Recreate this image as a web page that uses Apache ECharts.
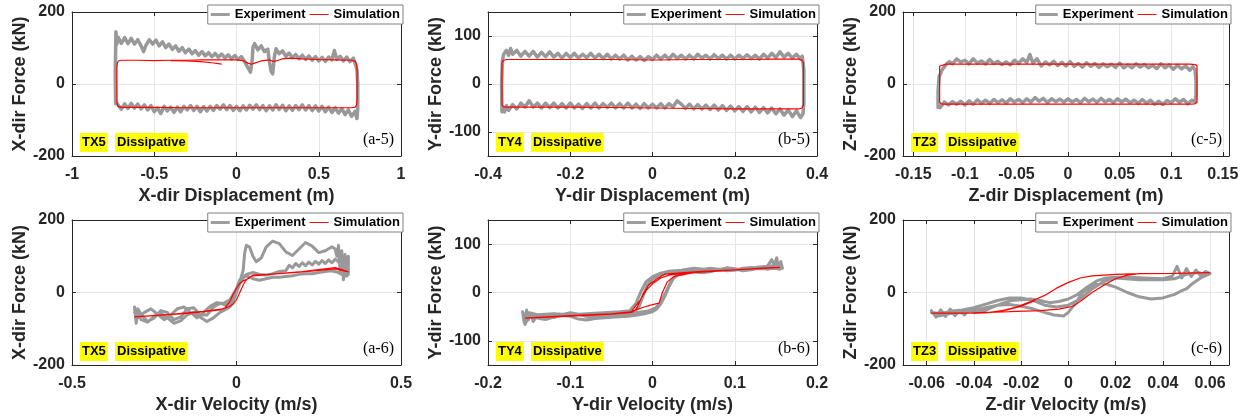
<!DOCTYPE html>
<html><head><meta charset="utf-8">
<script src="https://cdn.jsdelivr.net/npm/echarts@6/dist/echarts.min.js"></script>
<style>html,body{margin:0;padding:0;background:#fff}#c{width:1248px;height:418px}</style>
</head><body><div id="c"></div>
<script>
// ---------- tick values ----------
const xTicksA5 = [-1, -0.5, 0, 0.5, 1];
const xTicksB5 = [-0.4, -0.2, 0, 0.2, 0.4];
const xTicksC5 = [-0.15, -0.1, -0.05, 0, 0.05, 0.1, 0.15];
const xTicksA6 = [-0.5, 0, 0.5];
const xTicksB6 = [-0.2, -0.1, 0, 0.1, 0.2];
const xTicksC6 = [-0.06, -0.04, -0.02, 0, 0.02, 0.04, 0.06];
const yTicks200 = [-200, 0, 200];
const yTicks100 = [-100, 0, 100];

// ---------- (a-5) X displacement vs force ----------
const expA5 = [
[-0.735,-55],[-0.737,30],[-0.733,145],[-0.728,110],[-0.72,130],[-0.70,113],[-0.68,129],[-0.66,112],[-0.64,127],[-0.62,111],[-0.60,123],[-0.58,106],[-0.565,90],[-0.55,108],[-0.53,123],[-0.51,111],[-0.49,122],[-0.47,106],[-0.45,117],[-0.43,101],[-0.41,111],[-0.39,96],[-0.37,106],[-0.35,91],[-0.33,101],[-0.31,87],[-0.29,97],[-0.27,84],[-0.25,93],[-0.23,80],[-0.21,90],[-0.19,78],[-0.17,87],[-0.15,76],[-0.13,85],[-0.11,74],[-0.09,83],[-0.07,72],[-0.05,81],[-0.03,70],[-0.01,79],[0.01,68],[0.03,76],[0.05,62],[0.07,45],[0.085,33],[0.095,65],[0.10,102],[0.11,112],[0.13,95],[0.15,106],[0.17,90],[0.19,97],[0.20,62],[0.21,36],[0.22,28],[0.23,75],[0.24,98],[0.26,84],[0.28,92],[0.30,77],[0.32,86],[0.34,73],[0.36,82],[0.38,70],[0.40,80],[0.42,68],[0.44,78],[0.46,66],[0.48,76],[0.50,64],[0.52,74],[0.54,63],[0.56,75],[0.58,67],[0.595,93],[0.61,68],[0.63,77],[0.65,64],[0.67,75],[0.69,62],[0.71,72],[0.725,52],[0.733,38],[0.737,0],[0.737,-70],[0.732,-96],
[0.72,-76],[0.70,-90],[0.68,-72],[0.66,-85],[0.64,-68],[0.62,-81],[0.60,-66],[0.58,-79],[0.56,-64],[0.54,-77],[0.52,-62],[0.50,-75],[0.48,-61],[0.46,-74],[0.44,-60],[0.42,-72],[0.40,-58],[0.38,-71],[0.36,-60],[0.34,-73],[0.32,-61],[0.30,-74],[0.28,-59],[0.26,-71],[0.24,-58],[0.22,-72],[0.20,-61],[0.18,-74],[0.16,-60],[0.14,-71],[0.12,-58],[0.10,-70],[0.08,-59],[0.06,-72],[0.04,-61],[0.02,-74],[0.00,-62],[-0.02,-73],[-0.04,-60],[-0.06,-71],[-0.08,-58],[-0.10,-70],[-0.12,-60],[-0.14,-73],[-0.16,-62],[-0.18,-75],[-0.20,-63],[-0.22,-77],[-0.24,-62],[-0.26,-73],[-0.28,-60],[-0.30,-72],[-0.32,-62],[-0.34,-77],[-0.36,-64],[-0.38,-79],[-0.40,-64],[-0.42,-75],[-0.44,-62],[-0.46,-82],[-0.48,-66],[-0.50,-77],[-0.52,-60],[-0.54,-72],[-0.56,-58],[-0.58,-69],[-0.60,-56],[-0.62,-67],[-0.64,-54],[-0.66,-68],[-0.68,-55],[-0.70,-70],[-0.72,-58],[-0.735,-48]
];
const simA5 = [
[-0.727,-45],[-0.727,45],[-0.724,58],[-0.718,64],[-0.70,66],[-0.6,66],[-0.5,65],[-0.4,66],[-0.3,66],[-0.2,67],[-0.1,67],[0,67],[0.04,65],[0.07,58],[0.09,55],[0.11,58],[0.15,64],[0.2,67],[0.22,63],[0.24,64],[0.28,70],[0.32,72],[0.4,70],[0.5,68],[0.6,67],[0.7,66],[0.722,63],[0.73,55],[0.733,40],[0.733,-45],[0.73,-58],[0.722,-64],[0.7,-66],[0.5,-66],[0.3,-66],[0.1,-66],[-0.1,-66],[-0.3,-66],[-0.5,-65],[-0.7,-65],[-0.72,-62],[-0.726,-55],[-0.727,-45]
];
const simA5Start = [[-0.09,55],[-0.15,59],[-0.22,62],[-0.3,64],[-0.4,65]];

// ---------- (b-5) Y displacement vs force ----------
const expB5 = [
[-0.366,-58],[-0.367,0],[-0.365,48],[-0.362,62],[-0.355,70],[-0.35,60],[-0.345,74],[-0.34,62],[-0.33,70],[-0.32,58],[-0.31,68],[-0.30,58],[-0.29,68],[-0.28,56],[-0.27,66],[-0.26,57],[-0.25,67],[-0.24,56],[-0.23,64],[-0.22,54],[-0.21,64],[-0.20,55],[-0.19,64],[-0.18,54],[-0.17,62],[-0.16,55],[-0.15,64],[-0.14,54],[-0.13,62],[-0.12,53],[-0.11,62],[-0.10,52],[-0.09,60],[-0.08,52],[-0.07,60],[-0.06,50],[-0.05,58],[-0.04,50],[-0.03,57],[-0.02,49],[-0.01,57],[0.00,51],[0.01,60],[0.02,52],[0.03,60],[0.04,52],[0.05,62],[0.06,53],[0.07,60],[0.08,52],[0.09,60],[0.10,52],[0.11,62],[0.12,54],[0.13,60],[0.14,52],[0.15,61],[0.16,53],[0.17,60],[0.18,52],[0.19,60],[0.20,52],[0.21,60],[0.22,53],[0.23,61],[0.24,53],[0.25,60],[0.26,52],[0.27,62],[0.28,54],[0.29,64],[0.30,55],[0.31,67],[0.32,56],[0.33,64],[0.34,54],[0.35,62],[0.36,52],[0.364,58],[0.368,30],[0.368,-40],[0.366,-62],
[0.36,-70],[0.35,-56],[0.34,-68],[0.33,-54],[0.32,-65],[0.31,-52],[0.30,-62],[0.29,-50],[0.28,-60],[0.27,-49],[0.26,-59],[0.25,-48],[0.24,-58],[0.23,-47],[0.22,-57],[0.21,-47],[0.20,-56],[0.19,-46],[0.18,-55],[0.17,-45],[0.16,-54],[0.15,-44],[0.14,-53],[0.13,-44],[0.12,-52],[0.11,-43],[0.10,-52],[0.09,-42],[0.08,-51],[0.07,-42],[0.06,-35],[0.05,-48],[0.04,-41],[0.03,-50],[0.02,-41],[0.01,-50],[0.00,-42],[-0.01,-50],[-0.02,-41],[-0.03,-51],[-0.04,-42],[-0.05,-50],[-0.06,-40],[-0.07,-50],[-0.08,-41],[-0.09,-50],[-0.10,-40],[-0.11,-49],[-0.12,-41],[-0.13,-50],[-0.14,-40],[-0.15,-50],[-0.16,-41],[-0.17,-51],[-0.18,-42],[-0.19,-50],[-0.20,-40],[-0.21,-50],[-0.22,-41],[-0.23,-50],[-0.24,-40],[-0.25,-49],[-0.26,-40],[-0.27,-50],[-0.28,-40],[-0.29,-48],[-0.30,-35],[-0.31,-48],[-0.32,-40],[-0.33,-52],[-0.34,-43],[-0.35,-55],[-0.355,-45],[-0.36,-58],[-0.365,-48],[-0.366,-58]
];
const simB5 = [
[-0.366,-44],[-0.366,44],[-0.363,49],[-0.355,51],[-0.3,51],[-0.2,51],[-0.1,51],[0,50],[0.1,51],[0.2,51],[0.3,52],[0.355,52],[0.363,50],[0.367,44],[0.367,-44],[0.363,-50],[0.355,-52],[0.3,-52],[0.2,-52],[0.1,-51],[0,-50],[-0.1,-49],[-0.2,-48],[-0.3,-48],[-0.355,-48],[-0.363,-47],[-0.366,-44]
];

// ---------- (c-5) Z displacement vs force ----------
const expC5 = [
[-0.126,-65],[-0.126,-20],[-0.125,20],[-0.122,40],[-0.118,55],[-0.115,62],[-0.112,56],[-0.108,70],[-0.104,61],[-0.1,66],[-0.096,56],[-0.092,70],[-0.088,58],[-0.084,64],[-0.08,55],[-0.076,68],[-0.072,57],[-0.068,63],[-0.064,54],[-0.06,61],[-0.056,53],[-0.052,66],[-0.048,57],[-0.044,70],[-0.04,60],[-0.037,82],[-0.034,58],[-0.03,70],[-0.026,50],[-0.022,61],[-0.018,53],[-0.014,63],[-0.01,51],[-0.006,60],[-0.002,50],[0.002,62],[0.006,49],[0.01,57],[0.014,47],[0.018,59],[0.022,49],[0.026,57],[0.03,46],[0.034,56],[0.038,48],[0.042,55],[0.046,46],[0.05,58],[0.054,45],[0.058,53],[0.062,45],[0.066,56],[0.07,47],[0.074,54],[0.078,45],[0.082,52],[0.086,43],[0.09,56],[0.094,45],[0.098,53],[0.102,41],[0.106,52],[0.11,42],[0.114,50],[0.118,38],[0.121,48],[0.123,40],[0.124,10],[0.124,-30],[0.123,-50],
[0.12,-45],[0.116,-55],[0.112,-43],[0.108,-51],[0.104,-41],[0.1,-52],[0.096,-46],[0.092,-57],[0.088,-48],[0.084,-56],[0.08,-45],[0.076,-53],[0.072,-43],[0.068,-54],[0.064,-45],[0.06,-52],[0.056,-42],[0.052,-50],[0.048,-41],[0.044,-52],[0.04,-43],[0.036,-50],[0.032,-40],[0.028,-51],[0.024,-42],[0.02,-49],[0.016,-40],[0.012,-52],[0.008,-43],[0.004,-50],[0,-41],[-0.004,-50],[-0.008,-42],[-0.012,-49],[-0.016,-41],[-0.02,-52],[-0.024,-40],[-0.028,-48],[-0.032,-38],[-0.036,-50],[-0.04,-41],[-0.044,-52],[-0.048,-43],[-0.052,-50],[-0.056,-41],[-0.06,-53],[-0.064,-44],[-0.068,-52],[-0.072,-43],[-0.076,-54],[-0.08,-45],[-0.084,-53],[-0.088,-44],[-0.092,-56],[-0.096,-47],[-0.1,-58],[-0.104,-48],[-0.108,-56],[-0.112,-49],[-0.116,-58],[-0.12,-50],[-0.124,-66]
];
const simC5 = [
[-0.1245,-50],[-0.1245,50],[-0.123,54],[-0.118,55],[-0.05,55],[0,55],[0.05,55],[0.118,55],[0.123,54],[0.125,51],[0.125,-51],[0.123,-55],[0.118,-56],[0.05,-56],[0,-56],[-0.05,-56],[-0.118,-56],[-0.123,-55],[-0.1245,-50]
];

// ---------- (a-6) X velocity vs force ----------
const expA6 = [
[-0.31,-55],[-0.30,-45],[-0.29,-60],[-0.27,-80],[-0.25,-70],[-0.23,-50],[-0.21,-55],[-0.19,-75],[-0.17,-68],[-0.15,-45],[-0.13,-42],[-0.11,-62],[-0.09,-62],[-0.07,-40],[-0.05,-30],[-0.03,-35],[-0.02,-30],[-0.01,-15],[0,5],[0.01,30],[0.02,60],[0.025,110],[0.03,130],[0.04,125],[0.05,100],[0.06,85],[0.075,95],[0.09,125],[0.11,142],[0.13,135],[0.15,112],[0.17,102],[0.19,120],[0.21,138],[0.23,128],[0.25,110],[0.27,115],[0.29,126],[0.30,120],[0.305,100],[0.31,130],[0.315,55],[0.32,115],[0.325,35],[0.33,105],[0.335,45],[0.34,100],[0.34,50],
[0.33,45],[0.31,55],[0.29,60],[0.27,58],[0.25,55],[0.23,52],[0.21,52],[0.19,50],[0.17,46],[0.15,44],[0.13,42],[0.11,42],[0.09,38],[0.07,34],[0.05,38],[0.03,46],[0.02,40],[0.01,25],[0,0],[-0.01,-25],[-0.02,-40],[-0.03,-45],[-0.05,-55],[-0.07,-70],[-0.09,-80],[-0.11,-68],[-0.13,-55],[-0.15,-62],[-0.17,-78],[-0.19,-85],[-0.21,-70],[-0.23,-58],[-0.25,-65],[-0.27,-82],[-0.29,-75],[-0.30,-55],[-0.305,-85],[-0.31,-40],
[-0.30,-70],[-0.28,-55],[-0.26,-45],[-0.24,-60],[-0.22,-75],[-0.20,-62],[-0.18,-45],[-0.16,-40],[-0.14,-55],[-0.12,-70],[-0.10,-55],[-0.08,-38],[-0.06,-28],[-0.04,-30],[-0.02,-20],[0,10],[0.01,35],[0.03,50],[0.05,55],[0.07,50],[0.09,48],[0.11,52],[0.13,58],[0.15,60],[0.16,75],[0.17,68],[0.18,80],[0.19,72],[0.20,82],[0.21,74],[0.22,84],[0.23,76],[0.24,86],[0.25,78],[0.26,88],[0.27,80],[0.28,90],[0.29,82],[0.30,92],[0.31,85],[0.32,70],[0.33,90],[0.335,60]
];
const simA6 = [
[-0.31,-67],[-0.15,-58],[-0.05,-48],[-0.035,-42],[-0.02,-25],[-0.01,-5],[0,12],[0.01,25],[0.02,32],[0.035,38],[0.05,48],[0.1,50],[0.2,58],[0.3,69],[0.34,57],[0.3,65],[0.2,57],[0.1,50],[0.05,46],[0.04,42],[0.03,35],[0.02,20],[0.01,0],[0,-20],[-0.01,-32],[-0.02,-38],[-0.04,-45],[-0.1,-52],[-0.2,-60],[-0.31,-67]
];

// ---------- (b-6) Y velocity vs force ----------
const expB6 = [
[-0.158,-40],[-0.156,-62],[-0.153,-36],[-0.151,-57],[-0.148,-44],[-0.145,-60],[-0.14,-46],[-0.135,-55],[-0.13,-48],[-0.12,-52],[-0.11,-46],[-0.10,-42],[-0.09,-45],[-0.08,-50],[-0.07,-52],[-0.06,-48],[-0.05,-45],[-0.04,-43],[-0.03,-44],[-0.022,-40],[-0.016,-28],[-0.011,-5],[-0.006,15],[0,28],[0.008,36],[0.018,41],[0.03,44],[0.04,46],[0.05,44],[0.06,47],[0.07,50],[0.08,48],[0.09,45],[0.10,46],[0.11,50],[0.12,52],[0.13,49],[0.14,55],[0.145,68],[0.148,56],[0.151,72],[0.153,52],[0.156,64],[0.158,50],[0.155,58],
[0.15,52],[0.14,48],[0.13,51],[0.12,47],[0.11,45],[0.10,49],[0.09,51],[0.08,47],[0.07,43],[0.06,41],[0.05,43],[0.04,39],[0.03,36],[0.025,28],[0.02,12],[0.015,-8],[0.01,-24],[0.005,-34],[0,-40],[-0.01,-44],[-0.02,-47],[-0.03,-49],[-0.05,-51],[-0.07,-54],[-0.08,-57],[-0.09,-55],[-0.10,-49],[-0.11,-47],[-0.12,-51],[-0.13,-56],[-0.14,-53],[-0.15,-49],[-0.155,-66],[-0.157,-45],
[-0.15,-42],[-0.14,-46],[-0.12,-44],[-0.10,-46],[-0.08,-44],[-0.06,-42],[-0.04,-40],[-0.028,-38],[-0.02,-22],[-0.014,2],[-0.008,22],[0,33],[0.01,40],[0.02,44],[0.035,46],[0.05,50],[0.07,47],[0.09,49],[0.11,48],[0.13,53],[0.15,56],[0.155,48],
[0.15,50],[0.12,49],[0.09,47],[0.06,44],[0.04,42],[0.03,38],[0.022,22],[0.016,0],[0.01,-20],[0.004,-32],[-0.005,-38],[-0.02,-42],[-0.04,-44],[-0.07,-46],[-0.1,-44],[-0.13,-47],[-0.155,-50]
];
const simB6 = [
[-0.155,-53],[-0.1,-49],[-0.05,-45],[-0.025,-41],[-0.02,-35],[-0.012,-5],[-0.005,15],[0.005,28],[0.015,38],[0.03,40],[0.06,44],[0.1,47],[0.155,52],[0.1,47],[0.06,43],[0.042,39],[0.026,33],[0.018,22],[0.012,0],[0.008,-22],[0,-25],[-0.01,-30],[-0.02,-36],[-0.03,-42],[-0.06,-45],[-0.1,-49],[-0.155,-53],
[-0.1,-48],[-0.05,-44],[-0.026,-40],[-0.016,-18],[-0.008,4],[0.0,18],[0.01,30],[0.02,36],[0.04,40],[0.1,47],[0.15,52]
];

// ---------- (c-6) Z velocity vs force ----------
const expC6 = [
[-0.058,-50],[-0.056,-68],[-0.054,-48],[-0.052,-66],[-0.05,-46],[-0.048,-64],[-0.046,-50],[-0.044,-62],[-0.042,-48],[-0.04,-56],[-0.036,-52],[-0.032,-40],[-0.028,-30],[-0.024,-22],[-0.02,-20],[-0.016,-18],[-0.012,-22],[-0.008,-28],[-0.004,-25],[0,-18],[0.004,-5],[0.008,15],[0.012,32],[0.016,40],[0.02,42],[0.026,42],[0.032,40],[0.04,38],[0.044,45],[0.046,72],[0.048,40],[0.05,66],[0.052,44],[0.054,62],[0.056,46],[0.058,58],[0.06,52],
[0.056,40],[0.052,22],[0.05,10],[0.048,5],[0.045,-5],[0.04,-15],[0.035,-18],[0.03,-12],[0.025,0],[0.02,15],[0.015,25],[0.01,20],[0.006,0],[0.003,-30],[0,-55],[-0.002,-65],[-0.006,-62],[-0.01,-55],[-0.015,-45],[-0.02,-38],[-0.025,-33],[-0.03,-35],[-0.035,-42],[-0.04,-50],[-0.045,-55],[-0.05,-58],[-0.055,-65],[-0.058,-55],
[-0.054,-58],[-0.05,-52],[-0.045,-48],[-0.04,-42],[-0.035,-32],[-0.03,-22],[-0.025,-15],[-0.02,-15],[-0.015,-22],[-0.01,-35],[-0.005,-40],[0,-35],[0.005,-18],[0.01,10],[0.015,30],[0.02,40],[0.03,35],[0.04,35],[0.045,38],[0.05,50],[0.055,55],[0.058,50]
];
const simC6 = [
[-0.058,-57],[-0.045,-57],[-0.035,-56],[-0.028,-50],[-0.022,-40],[-0.016,-25],[-0.01,-8],[-0.005,12],[0,28],[0.005,40],[0.01,46],[0.02,50],[0.03,52],[0.045,53],[0.06,55],[0.045,53],[0.03,52],[0.025,48],[0.02,38],[0.015,20],[0.01,0],[0.006,-20],[0.002,-38],[-0.004,-46],[-0.012,-50],[-0.025,-53],[-0.04,-56],[-0.058,-57],
[-0.04,-56],[-0.032,-54],[-0.026,-48],[-0.02,-38],[-0.014,-22]
];

// ---------- layout / styling ----------
const W = 1248;
const SANS = '"Liberation Sans", Arial, Helvetica, sans-serif';
const SERIF = '"Liberation Serif", "Times New Roman", serif';
const AX = '#262626';
const EXP_COLOR = '#999999';
const SIM_COLOR = '#ff0000';

const panels = [
  {box:[72,12,329,144], xr:[-1,1], yr:[-200,200], xt:xTicksA5, yt:yTicks200, xName:'X-dir Displacement (m)', yName:'X-dir Force (kN)', exp:[expA5], sim:[simA5, simA5Start], tag:'TX5', label:'(a-5)', ew:3.5},
  {box:[488,12,329,144], xr:[-0.4,0.4], yr:[-150,150], xt:xTicksB5, yt:yTicks100, xName:'Y-dir Displacement (m)', yName:'Y-dir Force (kN)', exp:[expB5], sim:[simB5], tag:'TY4', label:'(b-5)', ew:3.5},
  {box:[903,12,326,144], xr:[-0.16,0.156], yr:[-200,200], xt:xTicksC5, yt:yTicks200, xName:'Z-dir Displacement (m)', yName:'Z-dir Force (kN)', exp:[expC5], sim:[simC5], tag:'TZ3', label:'(c-5)', ew:3.5},
  {box:[72,220,329,145], xr:[-0.5,0.5], yr:[-200,200], xt:xTicksA6, yt:yTicks200, xName:'X-dir Velocity (m/s)', yName:'X-dir Force (kN)', exp:[expA6], sim:[simA6], tag:'TX5', label:'(a-6)', ew:3},
  {box:[488,220,329,145], xr:[-0.2,0.2], yr:[-150,150], xt:xTicksB6, yt:yTicks100, xName:'Y-dir Velocity (m/s)', yName:'Y-dir Force (kN)', exp:[expB6], sim:[simB6], tag:'TY4', label:'(b-6)', ew:3},
  {box:[903,220,326,145], xr:[-0.07,0.068], yr:[-200,200], xt:xTicksC6, yt:yTicks200, xName:'Z-dir Velocity (m/s)', yName:'Z-dir Force (kN)', exp:[expC6], sim:[simC6], tag:'TZ3', label:'(c-6)', ew:3}
];

const fmt = v => String(+(+v).toFixed(4));
const grid = [], xAxis = [], yAxis = [], series = [], legend = [], title = [];

panels.forEach((p, i) => {
  const [L, T, Wd, H] = p.box;
  const R = L + Wd, B = T + H;
  grid.push({left:L, top:T, width:Wd, height:H, containLabel:false, show:false});
  [false, true].forEach(mirror => {
    xAxis.push({
      type:'value', gridIndex:i, position: mirror ? 'top' : 'bottom', min:p.xr[0], max:p.xr[1],
      name: mirror ? '' : p.xName, nameLocation:'middle', nameGap:31,
      nameTextStyle:{fontFamily:SANS, fontWeight:'bold', fontSize:18, color:AX},
      axisLine:{show:true, onZero:false, lineStyle:{color:AX, width:1}},
      axisTick:{show:true, inside:true, length:4, customValues:p.xt, lineStyle:{color:AX}},
      axisLabel:{show:!mirror, customValues:p.xt, margin:11, fontFamily:SANS, fontWeight:'bold', fontSize:16, color:AX, formatter:fmt},
      splitLine:{show:!mirror, lineStyle:{color:'#e6e6e6', width:1}}
    });
    yAxis.push({
      type:'value', gridIndex:i, position: mirror ? 'right' : 'left', min:p.yr[0], max:p.yr[1],
      name: mirror ? '' : p.yName, nameLocation:'middle', nameGap:39,
      nameTextStyle:{fontFamily:SANS, fontWeight:'bold', fontSize:18, color:AX},
      axisLine:{show:true, onZero:false, lineStyle:{color:AX, width:1}},
      axisTick:{show:true, inside:true, length:4, customValues:p.yt, lineStyle:{color:AX}},
      axisLabel:{show:!mirror, customValues:p.yt, margin:7, fontFamily:SANS, fontWeight:'bold', fontSize:16, color:AX, formatter:fmt},
      splitLine:{show:!mirror, lineStyle:{color:'#e6e6e6', width:1}}
    });
  });
  p.exp.forEach(d => series.push({
    name:'Experiment', type:'line', xAxisIndex:2*i, yAxisIndex:2*i, data:d, symbol:'none', showSymbol:false,
    lineStyle:{color:EXP_COLOR, width:p.ew, join:'round', cap:'round'}, itemStyle:{color:EXP_COLOR}, z:2, animation:false
  }));
  p.sim.forEach(d => series.push({
    name:'Simulation', type:'line', xAxisIndex:2*i, yAxisIndex:2*i, data:d, symbol:'none', showSymbol:false,
    lineStyle:{color:SIM_COLOR, width:1.2}, itemStyle:{color:SIM_COLOR}, z:3, animation:false
  }));
  legend.push({
    data:[
      {name:'Experiment', icon:'path://M0 0H40V6H0Z', itemStyle:{color:EXP_COLOR, borderWidth:0}},
      {name:'Simulation', icon:'path://M0 0H40V2H0Z', itemStyle:{color:SIM_COLOR, borderWidth:0}}
    ],
    right: W - R - 2, top: T - 7, orient:'horizontal', symbolKeepAspect:true,
    padding:[3,3], itemWidth:19, itemHeight:12, itemGap:4, backgroundColor:'#fff',
    borderColor:'#808080', borderWidth:1, borderRadius:0, selectedMode:false,
    textStyle:{fontFamily:SANS, fontWeight:'bold', fontSize:13, color:'#000'}, z:10
  });
  title.push({text:p.tag, left:L+8, top:B-23, padding:[2,2], backgroundColor:'#ffff00',
    textStyle:{fontFamily:SANS, fontWeight:'bold', fontSize:13, color:'#000', lineHeight:15}});
  title.push({text:'Dissipative', left:L+43, top:B-23, padding:[2,2], backgroundColor:'#ffff00',
    textStyle:{fontFamily:SANS, fontWeight:'bold', fontSize:13, color:'#000', lineHeight:15}});
  title.push({text:p.label, right:W-(R-7), top:B-25, padding:0,
    textStyle:{fontFamily:SERIF, fontWeight:'normal', fontSize:16, color:'#000', lineHeight:18}});
});

const chart = echarts.init(document.getElementById('c'), null, {renderer:'canvas'});
chart.setOption({backgroundColor:'#fff', animation:false, grid, xAxis, yAxis, series, legend, title});
</script></body></html>
